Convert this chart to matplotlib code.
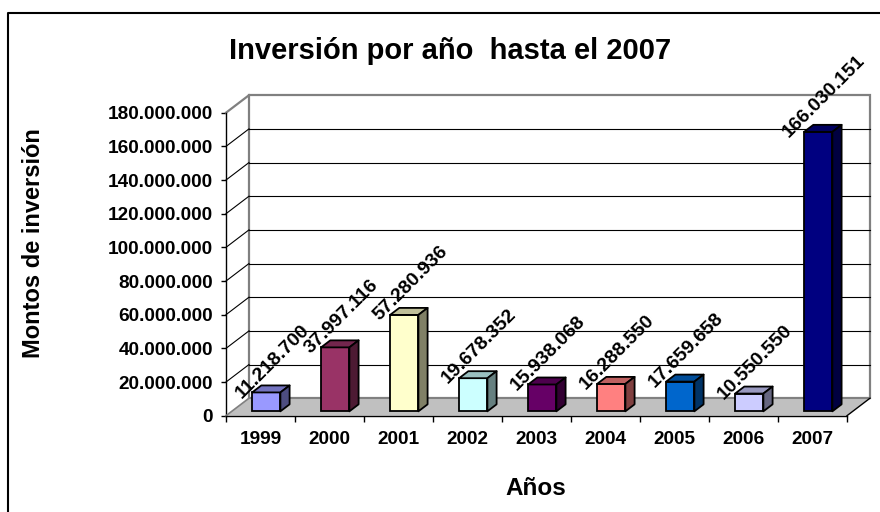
import matplotlib
matplotlib.use("Agg")
import matplotlib.pyplot as plt
from matplotlib.patches import Polygon
from matplotlib.lines import Line2D
import numpy as np

plt.rcParams['font.family'] = ['Liberation Sans', 'DejaVu Sans']
plt.rcParams['font.weight'] = 'bold'

years = ["1999", "2000", "2001", "2002", "2003", "2004", "2005", "2006", "2007"]
montos = [11218700, 37997116, 57280936, 19678352, 15938068, 16288550, 17659658, 10550550, 166030151]
colores = ["#9999FF", "#993366", "#FFFFCC", "#CCFFFF", "#660066", "#FF8080", "#0066CC", "#CCCCFF", "#000080"]
yticks = list(range(0, 180000001, 20000000))

W, H = 880, 512
fig = plt.figure(figsize=(W / 100, H / 100), dpi=100)

# front plane of the 3d box, in pixels
left, right, bottom, top = 226, 847, 415.7, 112.7
ax = fig.add_axes([left / W, 1 - bottom / H, (right - left) / W, (bottom - top) / H])
ax.set_xlim(0, 9)
ax.set_ylim(0, 180000000)
ax.patch.set_visible(False)

# depth of the box in data units (23 px right, 17.5 px up)
DX = 23 / ((right - left) / 9)
DY = 17.5 * 180000000 / (bottom - top)

gray = "#808080"

# back wall
ax.add_patch(Polygon([(DX, DY), (9 + DX, DY), (9 + DX, 180000000 + DY), (DX, 180000000 + DY)],
                     closed=True, facecolor="white", edgecolor=gray, lw=1.6, clip_on=False, zorder=1))
for t in yticks[1:-1]:
    ax.plot([DX, 9 + DX], [t + DY, t + DY], color="black", lw=0.8, clip_on=False, zorder=2)
    ax.plot([0, DX], [t, t + DY], color="black", lw=0.8, clip_on=False, zorder=2)
ax.plot([0, DX], [180000000, 180000000 + DY], color=gray, lw=1.6, clip_on=False, zorder=2)

# floor
ax.add_patch(Polygon([(0, 0), (9, 0), (9 + DX, DY), (DX, DY)], closed=True,
                     facecolor="#C0C0C0", edgecolor="none", clip_on=False, zorder=3))
ax.plot([0, DX, 9 + DX], [0, DY, DY], color=gray, lw=1.2, clip_on=False, zorder=3)
ax.plot([9, 9 + DX], [0, DY], color="black", lw=1.0, clip_on=False, zorder=3)


def shade(c, f):
    r, g, b = matplotlib.colors.to_rgb(c)
    return (r * f, g * f, b * f)


# bars
w = 0.41
d0, dd = 0.25, 0.40
x = np.arange(len(years)) + 0.5 - w / 2 + d0 * DX
y0 = d0 * DY
ax.bar(x, montos, width=w, bottom=y0, align="edge", color=colores,
       edgecolor="black", lw=1.3, clip_on=False, zorder=4)
for xi, v, c in zip(x, montos, colores):
    tp = [(xi, y0 + v), (xi + w, y0 + v), (xi + w + dd * DX, y0 + v + dd * DY), (xi + dd * DX, y0 + v + dd * DY)]
    sd = [(xi + w, y0), (xi + w + dd * DX, y0 + dd * DY), (xi + w + dd * DX, y0 + v + dd * DY), (xi + w, y0 + v)]
    ax.add_patch(Polygon(tp, closed=True, facecolor=shade(c, 0.75), edgecolor="black", lw=1.3,
                         joinstyle="round", clip_on=False, zorder=4))
    ax.add_patch(Polygon(sd, closed=True, facecolor=shade(c, 0.5), edgecolor="black", lw=1.3,
                         joinstyle="round", clip_on=False, zorder=4))
    etiqueta = f"{v:,}".replace(",", ".")
    ax.annotate(etiqueta, (xi + w / 2 + dd * DX / 2, y0 + v + dd * DY / 2), xytext=(1, -9),
                textcoords="offset points", rotation=45, ha="center", va="bottom",
                fontsize=14, fontweight="bold", zorder=6, annotation_clip=False)

# axes
for s in ["top", "right"]:
    ax.spines[s].set_visible(False)
ax.spines["left"].set_linewidth(1.0)
ax.spines["bottom"].set_linewidth(1.0)
ax.spines["bottom"].set_zorder(3.5)
ax.set_yticks(yticks)
ax.set_yticklabels([f"{t:,}".replace(",", ".") for t in yticks], fontsize=13.7, fontweight="bold")
ax.tick_params(axis="y", direction="out", length=3.5, width=1.0, pad=6)
ax.set_xticks(np.arange(0, 10))
ax.set_xticklabels([])
ax.set_xticks(np.arange(len(years)) + 0.5, minor=True)
ax.set_xticklabels(years, minor=True, fontsize=13.7, fontweight="bold")
ax.tick_params(axis="x", which="major", direction="out", length=4.5, width=1.0)
ax.tick_params(axis="x", which="minor", length=0, pad=11)

fig.text(450 / W, 1 - 59 / H, "Inversión por año  hasta el 2007", ha="center", va="baseline",
         fontsize=21, fontweight="bold")
fig.text(34 / W, 1 - 243 / H, "Montos de inversión", rotation=90, ha="center", va="center",
         fontsize=17, fontweight="bold")
fig.text(535.5 / W, 1 - 495 / H, "Años", ha="center", va="baseline", fontsize=17.5, fontweight="bold")

# chart frame
fig.add_artist(Line2D([8 / W, 8 / W, 1.01], [-0.01, 1 - 13 / H, 1 - 13 / H], color="black", lw=1.5))

fig.savefig("out.png", dpi=100)
